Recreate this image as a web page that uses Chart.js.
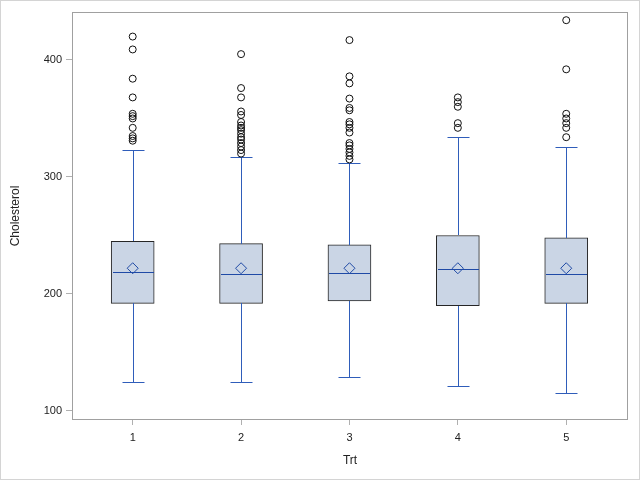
<!DOCTYPE html>
<html>
<head>
<meta charset="utf-8">
<script src="https://cdn.jsdelivr.net/npm/chart.js@4"></script>
<style>
  html, body { margin: 0; padding: 0; background: #fff; }
  #wrap { width: 640px; height: 480px; }
</style>
</head>
<body>
<div id="wrap"><canvas id="boxChart" width="640" height="480"></canvas></div>
<script>
// Box plot data
const groups = [1, 2, 3, 4, 5];
const q1 = [192, 192, 194, 190, 192];
const q3 = [245, 243, 242, 250, 248];
const medians = [219, 217, 218, 221, 217];
const means = [222, 222, 222, 222, 222];
const lowWhisker = [125, 125, 129, 121, 115];
const highWhisker = [323, 317, 312, 334, 326];
const outliers = [
    [420, 409, 384, 368, 354, 352, 350, 342, 335, 333, 331],
    [405, 376, 368, 356, 353, 347, 344, 342, 340, 337, 334, 332, 329, 326, 323, 320],
    [417, 386, 380, 367, 359, 357, 347, 345, 342, 338, 329, 327, 324, 321, 318, 315],
    [368, 364, 360, 346, 342],
    [434, 392, 354, 350, 346, 342, 334]
];
const yTicks = [100, 200, 300, 400];

const boxColor = "#CAD5E5";
const blue = "#2F5DBA";
const font = { family: "'Liberation Sans', Arial, sans-serif", size: 11 };

// Whiskers and medians, drawn right after the boxes
const whiskerPlugin = {
    id: "whiskers",
    afterDatasetDraw(chart, args) {
        if (args.meta.type !== "bar") return;
        const { ctx, scales: { x, y } } = chart;
        const capHalf = 11;
        ctx.save();
        ctx.strokeStyle = blue;
        ctx.lineWidth = 1;
        args.meta.data.forEach((bar, i) => {
            const cx = Math.round(x.getPixelForValue(groups[i])) + 0.5;
            const half = bar.width / 2;
            const top = Math.round(y.getPixelForValue(highWhisker[i])) + 0.5;
            const bot = Math.round(y.getPixelForValue(lowWhisker[i])) + 0.5;
            ctx.beginPath();
            ctx.moveTo(cx, Math.round(y.getPixelForValue(q3[i])));
            ctx.lineTo(cx, top);
            ctx.moveTo(cx - capHalf, top);
            ctx.lineTo(cx + capHalf, top);
            ctx.moveTo(cx, Math.round(y.getPixelForValue(q1[i])));
            ctx.lineTo(cx, bot);
            ctx.moveTo(cx - capHalf, bot);
            ctx.lineTo(cx + capHalf, bot);
            ctx.stroke();
            const my = Math.round(y.getPixelForValue(medians[i])) + 0.5;
            ctx.beginPath();
            ctx.strokeStyle = "#1F4AA6";
            ctx.moveTo(cx - half + 1, my);
            ctx.lineTo(cx + half - 1, my);
            ctx.stroke();
            ctx.strokeStyle = blue;
        });
        ctx.restore();
    }
};

// White page with a light outer border, and a gray frame round the plot
const framePlugin = {
    id: "frame",
    beforeDraw(chart) {
        const { ctx, width, height } = chart;
        ctx.save();
        ctx.fillStyle = "#fff";
        ctx.fillRect(0, 0, width, height);
        ctx.strokeStyle = "#d4d4d4";
        ctx.strokeRect(0.5, 0.5, width - 1, height - 1);
        ctx.restore();
    },
    afterDraw(chart) {
        const { ctx, chartArea: a } = chart;
        ctx.save();
        ctx.strokeStyle = "#a0a0a0";
        ctx.lineWidth = 1;
        ctx.strokeRect(Math.round(a.left) + 0.5, Math.round(a.top) + 0.5,
            Math.round(a.right - a.left) - 1, Math.round(a.bottom - a.top) - 1);
        ctx.restore();
    }
};

const outlierPoints = [];
outliers.forEach((list, i) => list.forEach(v => outlierPoints.push({ x: groups[i], y: v })));

new Chart(document.getElementById("boxChart"), {
    data: {
        datasets: [
            {
                type: "bar",
                label: "box",
                order: 3,
                data: groups.map((g, i) => ({ x: g, y: [q1[i], q3[i]] })),
                backgroundColor: boxColor,
                borderColor: "#262626",
                borderWidth: 1,
                borderSkipped: false,
                barThickness: 43
            },
            {
                type: "scatter",
                label: "mean",
                order: 1,
                data: groups.map((g, i) => ({ x: g, y: means[i] })),
                pointStyle: "rectRot",
                pointRadius: 5.5,
                backgroundColor: "rgba(0,0,0,0)",
                borderColor: "#1F4AA6",
                borderWidth: 1
            },
            {
                type: "scatter",
                label: "outliers",
                order: 2,
                data: outlierPoints,
                pointStyle: "circle",
                pointRadius: 3.5,
                backgroundColor: "rgba(0,0,0,0)",
                borderColor: "#111",
                borderWidth: 1
            }
        ]
    },
    options: {
        responsive: false,
        animation: false,
        events: [],
        layout: { padding: { left: 0, right: 12, top: 12, bottom: 0 } },
        plugins: { legend: { display: false }, tooltip: { enabled: false } },
        scales: {
            x: {
                type: "linear",
                min: 0.44,
                max: 5.57,
                offset: false,
                afterBuildTicks: s => { s.ticks = groups.map(v => ({ value: v })); },
                afterFit: s => { s.height = 60; },
                grid: { offset: false, drawOnChartArea: false, drawTicks: true, tickLength: 5, color: "#b0b0b0" },
                border: { display: false },
                ticks: { color: "#222", font: font, padding: 6 },
                title: { display: true, text: "Trt", color: "#222", font: { family: font.family, size: 12 }, padding: { top: 4, bottom: 12 } }
            },
            y: {
                type: "linear",
                min: 92.3,
                max: 441,
                afterBuildTicks: s => { s.ticks = yTicks.map(v => ({ value: v })); },
                afterFit: s => { s.width = 72; },
                grid: { drawOnChartArea: false, drawTicks: true, tickLength: 6, color: "#b0b0b0" },
                border: { display: false },
                ticks: { color: "#222", font: font, padding: 4 },
                title: { display: true, text: "Cholesterol", color: "#222", font: { family: font.family, size: 12 }, padding: { top: 8, bottom: 6 } }
            }
        }
    },
    plugins: [whiskerPlugin, framePlugin]
});
</script>
</body>
</html>
